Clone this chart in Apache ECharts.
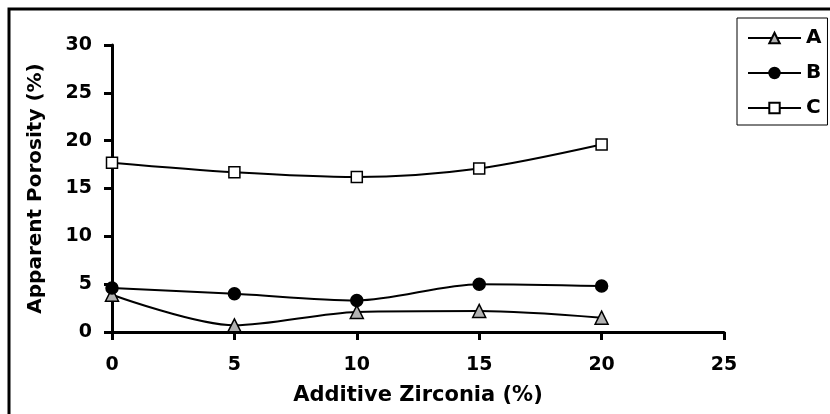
<!DOCTYPE html>
<html>
<head>
<meta charset="utf-8">
<script src="https://cdn.jsdelivr.net/npm/echarts@6/dist/echarts.min.js"></script>
<style>
html, body { margin: 0; padding: 0; background: #fff; }
#chart { width: 830px; height: 414px; }
</style>
</head>
<body>
<div id="chart"></div>
<script>
var zirconia = [0, 5, 10, 15, 20];
var seriesA = [3.9, 0.7, 2.1, 2.2, 1.5];
var seriesB = [4.6, 4.0, 3.3, 5.0, 4.8];
var seriesC = [17.7, 16.7, 16.2, 17.1, 19.6];

var toPairs = function(xs, ys) {
	var out = [];
	for (var i = 0; i < xs.length; i++) {
		out.push([xs[i], ys[i]]);
	}
	return out;
};

var font = 'DejaVu Sans, Liberation Sans, sans-serif';
var myChart = echarts.init(document.getElementById('chart'), null, { renderer: 'canvas' });

var lineSeries = function(name, data, symbol, size, fill) {
	return {
		name : name,
		type : 'line',
		data : toPairs(zirconia, data),
		smooth : 0.3,
		symbol : symbol,
		symbolSize : size,
		showAllSymbol : true,
		lineStyle : { color : '#000', width : 2 },
		itemStyle : { color : fill, borderColor : '#000', borderWidth : 1.5 },
		z : 3
	};
};

var option = {
	animation : false,
	backgroundColor : '#fff',
	graphic : [ {
		type : 'rect',
		shape : { x : 9, y : 9, width : 900, height : 500 },
		style : { fill : 'none', stroke : '#000', lineWidth : 3 },
		z : 0
	} ],
	grid : {
		left : 112,
		right : 106,
		top : 45,
		bottom : 82
	},
	legend : {
		orient : 'vertical',
		left : 737,
		top : 18,
		padding : [ 10, 6, 7, 10 ],
		itemGap : 15,
		itemWidth : 53,
		itemHeight : 13,
		borderColor : '#000',
		borderWidth : 1,
		backgroundColor : '#fff',
		textStyle : { fontFamily : font, fontWeight : 'bold', fontSize : 20, color : '#000' },
		data : [ 'A', 'B', 'C' ]
	},
	xAxis : {
		type : 'value',
		min : 0,
		max : 25,
		interval : 5,
		name : 'Additive Zirconia (%)',
		nameLocation : 'middle',
		nameGap : 53,
		nameTextStyle : { fontFamily : font, fontWeight : 'bold', fontSize : 21, color : '#000' },
		axisLine : { lineStyle : { color : '#000', width : 3 } },
		axisTick : { show : true, length : 8, lineStyle : { color : '#000', width : 3 } },
		axisLabel : { margin : 24, fontFamily : font, fontWeight : 'bold', fontSize : 19, color : '#000' },
		splitLine : { show : false }
	},
	yAxis : {
		type : 'value',
		min : 0,
		max : 30,
		interval : 5,
		name : 'Apparent Porosity (%)',
		nameLocation : 'middle',
		nameGap : 66,
		nameTextStyle : { fontFamily : font, fontWeight : 'bold', fontSize : 20, color : '#000' },
		axisLine : { lineStyle : { color : '#000', width : 3 } },
		axisTick : { show : true, length : 8, lineStyle : { color : '#000', width : 3 } },
		axisLabel : { margin : 20, fontFamily : font, fontWeight : 'bold', fontSize : 19, color : '#000' },
		splitLine : { show : false }
	},
	series : [
		lineSeries('A', seriesA, 'triangle', 13, '#b2b2b2'),
		lineSeries('B', seriesB, 'circle', 12, '#000'),
		lineSeries('C', seriesC, 'rect', 11, '#fff')
	]
};
myChart.setOption(option);
</script>
</body>
</html>
